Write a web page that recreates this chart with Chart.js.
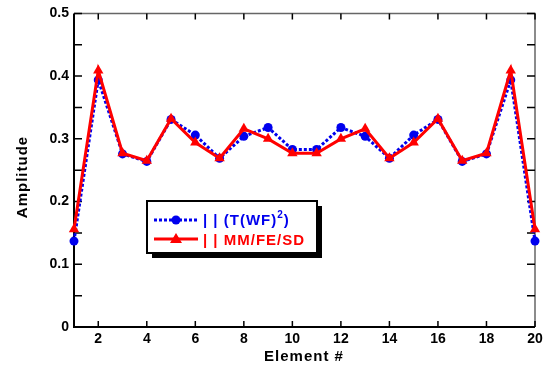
<!DOCTYPE html>
<html lang="en">
<head>
  <meta charset="UTF-8" />
  <title>Element Amplitude</title>
  <script src="https://cdn.jsdelivr.net/npm/chart.js"></script>
  <style>
    body { margin: 0; background: #fff; }
    #wrap { width: 544px; height: 368px; position: relative; }
  </style>
</head>
<body>
  <div id="wrap"><canvas id="ampChart" width="544" height="368"></canvas></div>

  <script>
    const elements = [1, 2, 3, 4, 5, 6, 7, 8, 9, 10, 11, 12, 13, 14, 15, 16, 17, 18, 19, 20];
    const wfAmp = [0.137, 0.394, 0.276, 0.264, 0.331, 0.306, 0.269, 0.304, 0.318, 0.283,
                   0.283, 0.318, 0.304, 0.269, 0.306, 0.331, 0.264, 0.276, 0.394, 0.137];
    const mmAmp = [0.156, 0.409, 0.277, 0.265, 0.332, 0.294, 0.269, 0.316, 0.300, 0.277,
                   0.277, 0.300, 0.316, 0.269, 0.294, 0.332, 0.265, 0.277, 0.409, 0.156];
    const xTickValues = [2, 4, 6, 8, 10, 12, 14, 16, 18, 20];
    const yTickValues = [0, 0.1, 0.2, 0.3, 0.4, 0.5];
    const yMinorValues = [0.05, 0.15, 0.25, 0.35, 0.45];

    const FONT = "'Liberation Sans', Arial, sans-serif";
    const BLUE = '#0000ee';
    const RED = '#ff0000';

    // frame with inward ticks, drawn under the lines
    const framePlugin = {
      id: 'frame',
      beforeDatasetsDraw(chart) {
        const { ctx, chartArea: a, scales: { x, y } } = chart;
        ctx.save();
        ctx.strokeStyle = '#666';
        ctx.lineWidth = 1.5;
        ctx.beginPath();
        ctx.moveTo(a.left, a.top); ctx.lineTo(a.right, a.top); ctx.lineTo(a.right, a.bottom);
        ctx.stroke();
        ctx.strokeStyle = '#000';
        ctx.lineWidth = 2;
        ctx.beginPath();
        ctx.moveTo(a.left, a.top); ctx.lineTo(a.left, a.bottom); ctx.lineTo(a.right, a.bottom);
        ctx.stroke();

        ctx.lineWidth = 1.5;
        xTickValues.forEach(v => {
          const px = x.getPixelForValue(v);
          ctx.beginPath();
          ctx.moveTo(px, a.bottom); ctx.lineTo(px, a.bottom - 6);
          ctx.moveTo(px, a.top); ctx.lineTo(px, a.top + 6);
          ctx.stroke();
        });
        yTickValues.concat(yMinorValues).forEach(v => {
          const py = y.getPixelForValue(v);
          ctx.beginPath();
          ctx.moveTo(a.left, py); ctx.lineTo(a.left + 8, py);
          ctx.moveTo(a.right, py); ctx.lineTo(a.right - 8, py);
          ctx.stroke();
        });
        ctx.restore();
      },
      afterDraw(chart) {
        const { ctx } = chart;
        ctx.save();
        ctx.fillStyle = '#000';
        ctx.font = 'bold 15px ' + FONT;
        ctx.letterSpacing = '1px';
        ctx.textAlign = 'center';
        ctx.textBaseline = 'middle';
        ctx.fillText('Element #', 304, 357);
        ctx.translate(23, 177);
        ctx.rotate(-Math.PI / 2);
        ctx.fillText('Amplitude', 0, 0);
        ctx.restore();

        // legend box
        ctx.save();
        ctx.fillStyle = '#000';
        ctx.fillRect(152, 206, 170, 52);
        ctx.fillStyle = '#fff';
        ctx.fillRect(147, 201, 170, 52);
        ctx.strokeStyle = '#000';
        ctx.lineWidth = 2;
        ctx.strokeRect(147, 201, 170, 52);

        ctx.lineWidth = 3;
        ctx.strokeStyle = BLUE;
        ctx.setLineDash([3, 2]);
        ctx.beginPath(); ctx.moveTo(154, 220); ctx.lineTo(198, 220); ctx.stroke();
        ctx.setLineDash([]);
        ctx.fillStyle = BLUE;
        ctx.beginPath(); ctx.arc(176, 220, 4.5, 0, Math.PI * 2); ctx.fill();

        ctx.strokeStyle = RED;
        ctx.beginPath(); ctx.moveTo(154, 239); ctx.lineTo(198, 239); ctx.stroke();
        ctx.fillStyle = RED;
        ctx.beginPath(); ctx.moveTo(176, 233); ctx.lineTo(182, 243); ctx.lineTo(170, 243); ctx.closePath(); ctx.fill();

        ctx.font = 'bold 15px ' + FONT;
        ctx.letterSpacing = '1px';
        ctx.textBaseline = 'alphabetic';
        ctx.textAlign = 'left';
        ctx.fillStyle = BLUE;
        let tx = 203;
        const part1 = '| | (T(WF)';
        ctx.fillText(part1, tx, 225);
        tx += ctx.measureText(part1).width;
        ctx.font = 'bold 10px ' + FONT;
        ctx.fillText('2', tx, 218);
        tx += ctx.measureText('2').width;
        ctx.font = 'bold 15px ' + FONT;
        ctx.fillText(')', tx, 225);
        ctx.fillStyle = RED;
        ctx.fillText('| | MM/FE/SD', 203, 245);
        ctx.restore();
      }
    };

    new Chart(document.getElementById('ampChart'), {
      type: 'line',
      data: {
        datasets: [
          {
            label: '| | MM/FE/SD',
            data: elements.map((e, i) => ({ x: e, y: mmAmp[i] })),
            borderColor: RED,
            backgroundColor: RED,
            borderWidth: 3,
            pointStyle: 'triangle',
            pointRadius: 6,
            pointBorderWidth: 0,
            pointBackgroundColor: RED,
            tension: 0,
            clip: false,
            order: 0
          },
          {
            label: '| | (T(WF)2)',
            data: elements.map((e, i) => ({ x: e, y: wfAmp[i] })),
            borderColor: BLUE,
            backgroundColor: BLUE,
            borderWidth: 3,
            borderDash: [3, 2],
            pointStyle: 'circle',
            pointRadius: 4.5,
            pointBorderWidth: 0,
            pointBackgroundColor: BLUE,
            tension: 0,
            clip: false,
            order: 1
          }
        ]
      },
      options: {
        responsive: false,
        animation: false,
        layout: { padding: { left: 0, right: 0, top: 13, bottom: 0 } },
        plugins: { legend: { display: false }, tooltip: { enabled: false } },
        scales: {
          x: {
            type: 'linear',
            min: 1,
            max: 20,
            grid: { display: false, drawTicks: false },
            border: { display: false },
            afterBuildTicks: s => { s.ticks = xTickValues.map(v => ({ value: v })); },
            afterFit: s => { s.height = 41; s.paddingLeft = 0; s.paddingRight = 9; },
            ticks: {
              color: '#000',
              padding: 4,
              maxRotation: 0,
              font: { family: FONT, size: 14, weight: 'bold' }
            }
          },
          y: {
            min: 0,
            max: 0.5,
            grid: { display: false, drawTicks: false },
            border: { display: false },
            afterBuildTicks: s => { s.ticks = yTickValues.map(v => ({ value: v })); },
            afterFit: s => { s.width = 74; },
            ticks: {
              color: '#000',
              padding: 5,
              font: { family: FONT, size: 14, weight: 'bold' },
              callback: v => (v === 0 ? '0' : v.toFixed(1))
            }
          }
        }
      },
      plugins: [framePlugin]
    });
  </script>
</body>
</html>
